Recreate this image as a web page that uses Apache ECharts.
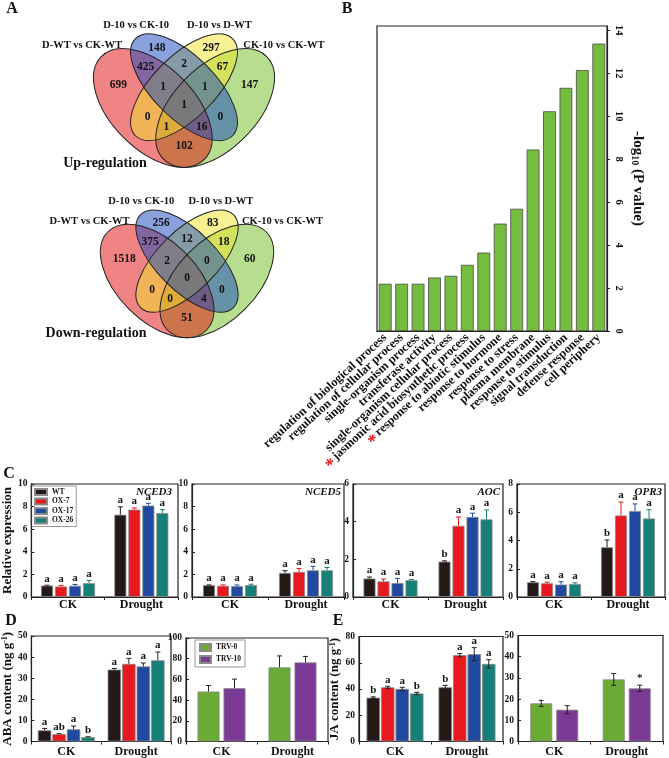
<!DOCTYPE html>
<html><head><meta charset="utf-8">
<script src="https://cdn.jsdelivr.net/npm/echarts@6/dist/echarts.min.js"></script>
<style>html,body{margin:0;padding:0;background:#fff}#c{width:669px;height:758px}</style>
</head><body><div id="c"></div><script>
const FONT = '"Liberation Serif","Times New Roman",serif';

// ---------- Panel A (Venn) data ----------
const vennSetNames = ['D-WT vs CK-WT', 'D-10 vs CK-10', 'D-10 vs D-WT', 'CK-10 vs CK-WT'];
const vennRegionKeys = ['A','B','C','D','AB','BC','CD','ABC','BCD','ABCD','AC','BD','ACD','ABD','AD'];
const upCounts   = [699, 148, 297, 147, 425, 2, 67, 1, 1, 1, 0, 0, 1, 16, 102];
const downCounts = [1518, 256, 83, 60, 375, 12, 18, 2, 0, 0, 0, 0, 0, 4, 51];

// ---------- Panel B data ----------
const goTerms = ['regulation of biological process','regulation of cellular process','single-organism process',
  'transferase activity','single-organism cellular process','jasmonic acid biosynthetic process',
  'response to abiotic stimulus','response to hormone','response to stress','plasma membrane',
  'response to stimulus','signal transduction','defense response','cell periphery'];
const goValues = [2.2, 2.2, 2.2, 2.49, 2.57, 3.08, 3.65, 5.0, 5.69, 8.45, 10.23, 11.32, 12.15, 13.38];
const goStarred = [false,false,false,false,false,true,true,false,false,false,false,false,false,false];

// ---------- Panel C data (rows: WT, OX-7, OX-17, OX-26; cols: CK, Drought) ----------
const groups = ['CK', 'Drought'];
const genotypes = ['WT', 'OX-7', 'OX-17', 'OX-26'];
const nced3Mean = [[1.01, 7.28], [0.93, 7.73], [0.99, 8.09], [1.22, 7.43]];
const nced3Err  = [[0.03, 0.7], [0.1, 0.15], [0.12, 0.2], [0.25, 0.3]];
const nced3Let  = [['a','a'], ['a','a'], ['a','a'], ['a','a']];
const nced5Mean = [[1.04, 2.13], [0.99, 2.22], [0.96, 2.36], [1.05, 2.36]];
const nced5Err  = [[0.03, 0.2], [0.08, 0.3], [0.1, 0.35], [0.08, 0.25]];
const nced5Let  = [['a','a'], ['a','a'], ['a','a'], ['a','a']];
const aocMean = [[0.98, 1.88], [0.83, 3.78], [0.74, 4.25], [0.89, 4.12]];
const aocErr  = [[0.08, 0.04], [0.12, 0.47], [0.25, 0.2], [0.04, 0.5]];
const aocLet  = [['a','b'], ['a','a'], ['a','a'], ['a','a']];
const opr3Mean = [[1.04, 3.52], [0.97, 5.77], [0.88, 6.09], [0.92, 5.56]];
const opr3Err  = [[0.05, 0.52], [0.08, 0.95], [0.2, 0.5], [0.08, 0.62]];
const opr3Let  = [['a','b'], ['a','a'], ['a','a'], ['a','a']];

// ---------- Panel D / E data ----------
const abaMean = [[5.3, 34.1], [3.5, 36.8], [5.8, 35.6], [2.1, 38.5]];
const abaErr  = [[0.9, 0.5], [0.2, 2.6], [1.5, 1.6], [0.15, 3.9]];
const abaLet  = [['a','a'], ['ab','a'], ['a','a'], ['b','a']];
const trvLines = ['TRV-0', 'TRV-10'];
const abaTrvMean = [[48.3, 71.7], [51.5, 76.4]];
const abaTrvErr  = [[5.8, 11], [8.8, 5.8]];
const jaMean = [[33.4, 41.3], [41.3, 65.8], [40.1, 66.5], [36.6, 59.1]];
const jaErr  = [[0.6, 1.5], [0.8, 1.3], [1.2, 5], [0.9, 3.2]];
const jaLet  = [['b','b'], ['a','a'], ['a','a'], ['b','a']];
const jaTrvMean = [[18.0, 29.3], [15.0, 25.1]];
const jaTrvErr  = [[1.4, 2.8], [1.9, 1.5]];
const jaTrvLet  = [['',''], ['','*']];

// ---------- styling (not data) ----------
const genoColors = ['#231916', '#e8191e', '#1f4aa0', '#168078'];
const trvColors = ['#6aab36', '#7b3a96'];
const vennFill = ['rgba(225,10,10,0.5)', 'rgba(20,70,190,0.5)', 'rgba(240,228,40,0.5)', 'rgba(110,190,30,0.5)'];
const vennEll = [[-0.15, 0, 0.35, 0.20, -1], [0, -0.10, 0.33, 0.15, -1], [0, -0.10, 0.33, 0.15, 1], [0.15, 0, 0.35, 0.20, 1]];
const vennDrawOrder = [3, 0, 2, 1];
const vennRegPos = {A:[-0.315,-0.11],B:[-0.13,-0.29],C:[0.13,-0.29],D:[0.315,-0.11],AB:[-0.185,-0.195],BC:[0,-0.21],
  CD:[0.185,-0.195],ABC:[-0.1,-0.1],BCD:[0.1,-0.1],ABCD:[0,-0.015],AC:[-0.175,0.043],BD:[0.175,0.043],
  ACD:[-0.085,0.093],ABD:[0.085,0.093],AD:[0,0.185]};
const vennSetPos = [[-0.49,-0.30],[-0.23,-0.40],[0.17,-0.40],[0.48,-0.30]];

function txt(x, y, text, font, align, vAlign, fill) {
  return {type:'text', x, y, z:100, style:{text, font, align: align||'center', verticalAlign: vAlign||'middle', fill: fill||'#111'}};
}

function venn(cx, cy, s, counts, title, tx, ty) {
  const els = [];
  vennDrawOrder.forEach((i, k) => { const e = vennEll[i]; els.push({type:'ellipse', x: cx + e[0]*s, y: cy + e[1]*s, rotation: e[4]*Math.PI/4,
    shape:{cx:0, cy:0, rx:e[2]*s, ry:e[3]*s}, style:{fill: vennFill[i], stroke:'none'}, z:1 + k}); });
  vennEll.forEach((e, i) => els.push({type:'ellipse', x: cx + e[0]*s, y: cy + e[1]*s, rotation: e[4]*Math.PI/4,
    shape:{cx:0, cy:0, rx:e[2]*s, ry:e[3]*s}, style:{fill: 'none', stroke:'#222', lineWidth:1}, z:10}));
  vennRegionKeys.forEach((k, i) => els.push(txt(cx + vennRegPos[k][0]*s, cy + vennRegPos[k][1]*s, String(counts[i]), 'bold 11.5px ' + FONT)));
  vennSetNames.forEach((n, i) => els.push(txt(cx + vennSetPos[i][0]*s, cy + vennSetPos[i][1]*s, n, 'bold 10.5px ' + FONT)));
  els.push(txt(tx, ty, title, 'bold 14px ' + FONT));
  return els;
}

const graphics = [].concat(
  venn(184, 108, 208, upCounts, 'Up-regulation', 105, 163),
  venn(187, 281, 199, downCounts, 'Down-regulation', 96, 333),
  [txt(12, 9, 'A', 'bold 16px ' + FONT), txt(347, 9, 'B', 'bold 16px ' + FONT),
   txt(9, 474, 'C', 'bold 16px ' + FONT), txt(11, 621, 'D', 'bold 16px ' + FONT), txt(338, 621, 'E', 'bold 16px ' + FONT),
   txt(172, 492, 'NCED3', 'italic bold 11px ' + FONT, 'right'), txt(341, 492, 'NCED5', 'italic bold 11px ' + FONT, 'right'),
   txt(500, 492, 'AOC', 'italic bold 11px ' + FONT, 'right'), txt(662, 492, 'OPR3', 'italic bold 11px ' + FONT, 'right')]
);

// ---------- grids ----------
const grids = [
  [377, 26, 607, 331],   // B
  [27, 484, 178, 597],   // C1
  [192, 484, 344, 597],  // C2
  [353, 484, 503, 597],  // C3
  [517, 484, 665, 597],  // C4
  [28, 636, 171, 741.5], // D1
  [186, 638, 328, 741.5],// D2
  [359, 636.5, 503, 741.5], // E1
  [518, 635.5, 663, 741.5]  // E2
].map(g => ({left:g[0], top:g[1], width:g[2]-g[0], height:g[3]-g[1], show:true, borderColor:'#222', borderWidth:1.2, containLabel:false}));

const axLine = {show:true, lineStyle:{color:'#222', width:1.2}};
const tickLbl = {fontFamily:FONT, fontWeight:'bold', fontSize:9.5, color:'#111', margin:4};

const xAxes = [{gridIndex:0, type:'category', data: goTerms, axisLine: axLine, axisTick:{show:false},
  axisLabel:{interval:0, rotate:42.5, margin:5, fontFamily:FONT, fontWeight:'bold', fontSize:12.3, color:'#111',
    formatter:(v, i) => goStarred[i] ? '{s|*}' + v : v,
    rich:{s:{fontSize:18, color:'#e41a1c', fontWeight:'bold', fontFamily:FONT, padding:[7,2,0,0]}}}}];
for (let g = 1; g <= 8; g++) {
  xAxes.push({gridIndex:g, type:'category', data: groups, axisLine: axLine,
    axisTick:{show:true, length:3, lineStyle:{color:'#222'}},
    axisLabel:{fontFamily:FONT, fontWeight:'bold', fontSize:12, color:'#111', margin: g <= 4 ? 2 : 4}});
}
function yAx(g, max, interval, name, nameGap) {
  const a = {gridIndex:g, type:'value', min:0, max, interval, splitLine:{show:false}, axisLine: axLine,
    axisTick:{show:true, length:3, inside:true, lineStyle:{color:'#222'}}, axisLabel: tickLbl};
  if (name) {
    a.name = name; a.nameLocation = 'middle'; a.nameGap = nameGap;
    a.nameTextStyle = {fontFamily:FONT, fontWeight:'bold', fontSize:13, color:'#111',
      rich:{sup:{fontFamily:FONT, fontWeight:'bold', fontSize:8, verticalAlign:'top', color:'#111'}}};
  }
  return a;
}
const yAxes = [
  {gridIndex:0, type:'value', position:'right', min:0, max:14.2, interval:2, splitLine:{show:false}, axisLine:axLine,
   axisTick:{show:true, length:3, lineStyle:{color:'#222'}},
   axisLabel:{fontFamily:FONT, fontWeight:'bold', fontSize:10.5, color:'#111', rotate:-90, margin:6, showMaxLabel:false},
   name:'-log{sub|10} (P value)', nameLocation:'middle', nameGap:23, nameRotate:-90,
   nameTextStyle:{fontFamily:FONT, fontWeight:'bold', fontSize:15, color:'#111',
     rich:{sub:{fontFamily:FONT, fontWeight:'bold', fontSize:10, verticalAlign:'bottom', padding:[6,0,0,0], color:'#111'}}}},
  yAx(1, 10, 2, 'Relative expression', 12),
  yAx(2, 10, 2),
  yAx(3, 6, 2),
  yAx(4, 8, 2),
  yAx(5, 50, 10, 'ABA content (ng g{sup|-1})', 12),
  yAx(6, 100, 20),
  yAx(7, 80, 20, 'JA content (ng g{sup|-1})', 10),
  yAx(8, 50, 10)
];

const series = [{type:'bar', xAxisIndex:0, yAxisIndex:0, data: goValues, barWidth:12.8,
  itemStyle:{color:'#75bd3e', borderColor:'#4a4a4a', borderWidth:0.8}}];

function barPanel(g, names, colors, means, errs, letters, bw, gap, sym, errColor) {
  means.forEach((row, s) => series.push({type:'bar', name:names[s], xAxisIndex:g, yAxisIndex:g, data:row,
    barWidth:bw, barGap: (gap/bw*100) + '%', itemStyle:{color:colors[s], borderColor:'#8a8a8a', borderWidth:0.8}}));
  const data = [], lets = [];
  means.forEach((row, s) => row.forEach((m, c) => { data.push([c, s, m, errs[s][c]]); lets.push(letters ? letters[s][c] : ''); }));
  const n = means.length;
  series.push({type:'custom', xAxisIndex:g, yAxisIndex:g, z:10, silent:true, data,
    renderItem(params, api) {
      const c = api.value(0), s = api.value(1), m = api.value(2), e = api.value(3);
      const off = (s - (n - 1) / 2) * (bw + gap);
      const top = api.coord([c, m + e]);
      const bot = api.coord([c, sym ? m - e : m]);
      const x = top[0] + off;
      const col = errColor || colors[s];
      const st = {stroke: col, lineWidth: 1};
      const ch = [{type:'line', shape:{x1:x, y1:top[1], x2:x, y2:bot[1]}, style:st},
                  {type:'line', shape:{x1:x-2.5, y1:top[1], x2:x+2.5, y2:top[1]}, style:st}];
      if (sym) ch.push({type:'line', shape:{x1:x-2.5, y1:bot[1], x2:x+2.5, y2:bot[1]}, style:st});
      const L = lets[params.dataIndex];
      if (L) ch.push({type:'text', x, y: top[1] - 1, style:{text:L, font:'bold 11px ' + FONT, align:'center', verticalAlign:'bottom', fill:'#111'}});
      return {type:'group', children: ch};
    }});
}
barPanel(1, genotypes, genoColors, nced3Mean, nced3Err, nced3Let, 12, 2, false, null);
barPanel(2, genotypes, genoColors, nced5Mean, nced5Err, nced5Let, 12, 2, false, null);
barPanel(3, genotypes, genoColors, aocMean, aocErr, aocLet, 12, 2, false, null);
barPanel(4, genotypes, genoColors, opr3Mean, opr3Err, opr3Let, 12, 2, false, null);
barPanel(5, genotypes, genoColors, abaMean, abaErr, abaLet, 13.5, 1, false, '#222');
barPanel(6, trvLines, trvColors, abaTrvMean, abaTrvErr, null, 22, 4, false, '#222');
barPanel(7, genotypes, genoColors, jaMean, jaErr, jaLet, 13.5, 1, true, '#222');
barPanel(8, trvLines, trvColors, jaTrvMean, jaTrvErr, jaTrvLet, 22, 4, true, '#222');

const legendBase = {orient:'vertical', icon:'rect', selectedMode:false, borderColor:'#555', borderWidth:0.6,
  textStyle:{fontFamily:FONT, fontWeight:'bold', fontSize:7.5, color:'#111'}};
const option = {
  animation:false,
  backgroundColor:'#fff',
  grid: grids, xAxis: xAxes, yAxis: yAxes, series,
  legend:[
    Object.assign({}, legendBase, {data: genotypes, left:31, top:486, itemWidth:12, itemHeight:6, itemGap:1.5, padding:[2,3]}),
    Object.assign({}, legendBase, {data: trvLines, left:195, top:640, itemWidth:11, itemHeight:7, itemGap:3, padding:[3,4]})
  ],
  graphic: graphics
};
const chart = echarts.init(document.getElementById('c'), null, {renderer:'canvas'});
chart.setOption(option);
</script></body></html>
